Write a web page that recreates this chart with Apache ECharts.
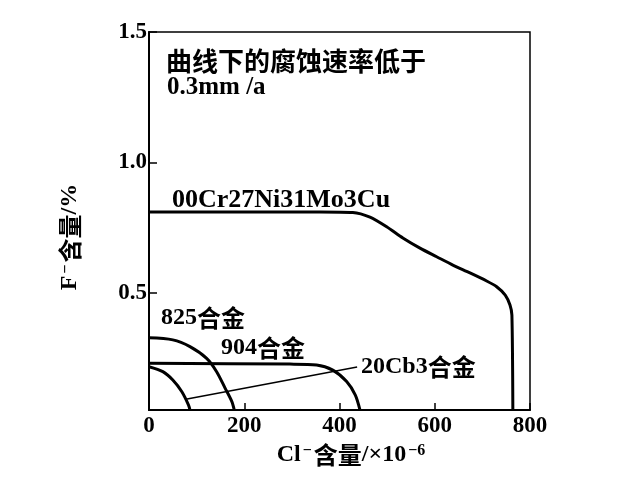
<!DOCTYPE html>
<html>
<head>
<meta charset="utf-8">
<script src="https://cdn.jsdelivr.net/npm/echarts@6/dist/echarts.min.js"></script>
<style>html,body{margin:0;padding:0;background:#fff;}#c{width:622px;height:489px;}</style>
</head>
<body>
<div id="c"></div>
<script>
// X: Cl- content (x10^-6), Y: F- content (%)
const xTicks = [0, 200, 400, 600, 800];
const yTicks = [0.5, 1.0, 1.5];

const cr27X = [0, 359, 428, 464, 499, 533, 569, 604, 638, 674, 709, 730, 748, 758, 762, 764];
const cr27Y = [0.81, 0.81, 0.808, 0.79, 0.753, 0.71, 0.671, 0.638, 0.606, 0.576, 0.545, 0.523, 0.491, 0.453, 0.414, 0.05];

const a825X = [0, 50, 86, 121, 142, 160, 174, 179];
const a825Y = [0.327, 0.319, 0.293, 0.248, 0.197, 0.133, 0.082, 0.05];

const a904X = [0, 296, 352, 386, 415, 433, 443];
const a904Y = [0.229, 0.226, 0.223, 0.203, 0.159, 0.108, 0.05];

const cb3X = [0, 29, 50, 69, 83, 86];
const cb3Y = [0.216, 0.197, 0.165, 0.12, 0.069, 0.05];

const leaderX = [80, 437];
const leaderY = [0.092, 0.215];

const zip = (xs, ys) => xs.map((x, i) => [x, ys[i]]);

const serifF = '"Liberation Serif"';
const cjkF = '"Noto Sans CJK SC"';

function curve(xs, ys, w, smooth) {
  return {
    type: 'line', data: zip(xs, ys), symbol: 'none', smooth: smooth,
    lineStyle: { color: '#000', width: w }, silent: true, animation: false
  };
}

const richStyles = {
  n: { fontFamily: serifF, fontWeight: 'bold', fontSize: 24, fill: '#000' },
  c: { fontFamily: cjkF, fontWeight: 'bold', fontSize: 24, fill: '#000' },
  s: { fontFamily: serifF, fontWeight: 'bold', fontSize: 16, fill: '#000', verticalAlign: 'top', padding: [0, 2, 0, 2] }
};

function label(x, y, text, opts) {
  return Object.assign({ type: 'text', x: x, y: y, style: { text: text, rich: richStyles, fill: '#000', verticalAlign: 'middle' } }, opts || {});
}

const xTitle = '{n|Cl}{s|−}{c|含量}{n|/×10}{s|−6}';
const yTitle = '{n|F}{s|−}{c|含量}{n|/%}';

const chart = echarts.init(document.getElementById('c'));
chart.setOption({
  backgroundColor: '#fff',
  animation: false,
  grid: { left: 149, top: 32, right: 92, bottom: 79, show: true, borderColor: '#000', borderWidth: 1.5 },
  xAxis: {
    type: 'value', min: 0, max: 800, interval: 200,
    axisLine: { lineStyle: { color: '#000', width: 2 } },
    axisTick: { inside: true, length: 7, lineStyle: { color: '#000', width: 1.5 } },
    axisLabel: { color: '#000', fontFamily: serifF, fontWeight: 'bold', fontSize: 23, margin: 5 },
    splitLine: { show: false }
  },
  yAxis: {
    type: 'value', min: 0.05, max: 1.5,
    axisLine: { show: true, lineStyle: { color: '#000', width: 2 } },
    axisTick: { show: true, inside: true, length: 8, customValues: yTicks, lineStyle: { color: '#000', width: 1.5 } },
    axisLabel: { color: '#000', fontFamily: serifF, fontWeight: 'bold', fontSize: 23, margin: 2,
      customValues: yTicks, formatter: v => Number(v).toFixed(1) },
    splitLine: { show: false }
  },
  series: [
    curve(cr27X, cr27Y, 3, 0.25),
    curve(a825X, a825Y, 3, 0.3),
    curve(a904X, a904Y, 3, 0.3),
    curve(cb3X, cb3Y, 3, 0.3),
    curve(leaderX, leaderY, 1.5, false)
  ],
  graphic: [
    { type: 'text', x: 166, y: 61, style: { text: '曲线下的腐蚀速率低于', font: 'bold 26px "Noto Sans CJK SC"', fill: '#000', verticalAlign: 'middle' } },
    { type: 'text', x: 167, y: 88, style: { text: '0.3mm /a', font: 'bold 25px "Liberation Serif"', fill: '#000', verticalAlign: 'middle' } },
    { type: 'text', x: 172, y: 200, style: { text: '00Cr27Ni31Mo3Cu', font: 'bold 26px "Liberation Serif"', fill: '#000', verticalAlign: 'middle' } },
    label(161, 318, '{n|825}{c|合金}'),
    label(221, 348, '{n|904}{c|合金}'),
    label(361, 367, '{n|20Cb3}{c|合金}'),
    label(352, 455, xTitle, { style: { text: xTitle, rich: richStyles, align: 'center', verticalAlign: 'middle' } }),
    label(70, 237, yTitle, { rotation: Math.PI / 2, style: { text: yTitle, rich: richStyles, align: 'center', verticalAlign: 'middle' } })
  ]
});
</script>
</body>
</html>
